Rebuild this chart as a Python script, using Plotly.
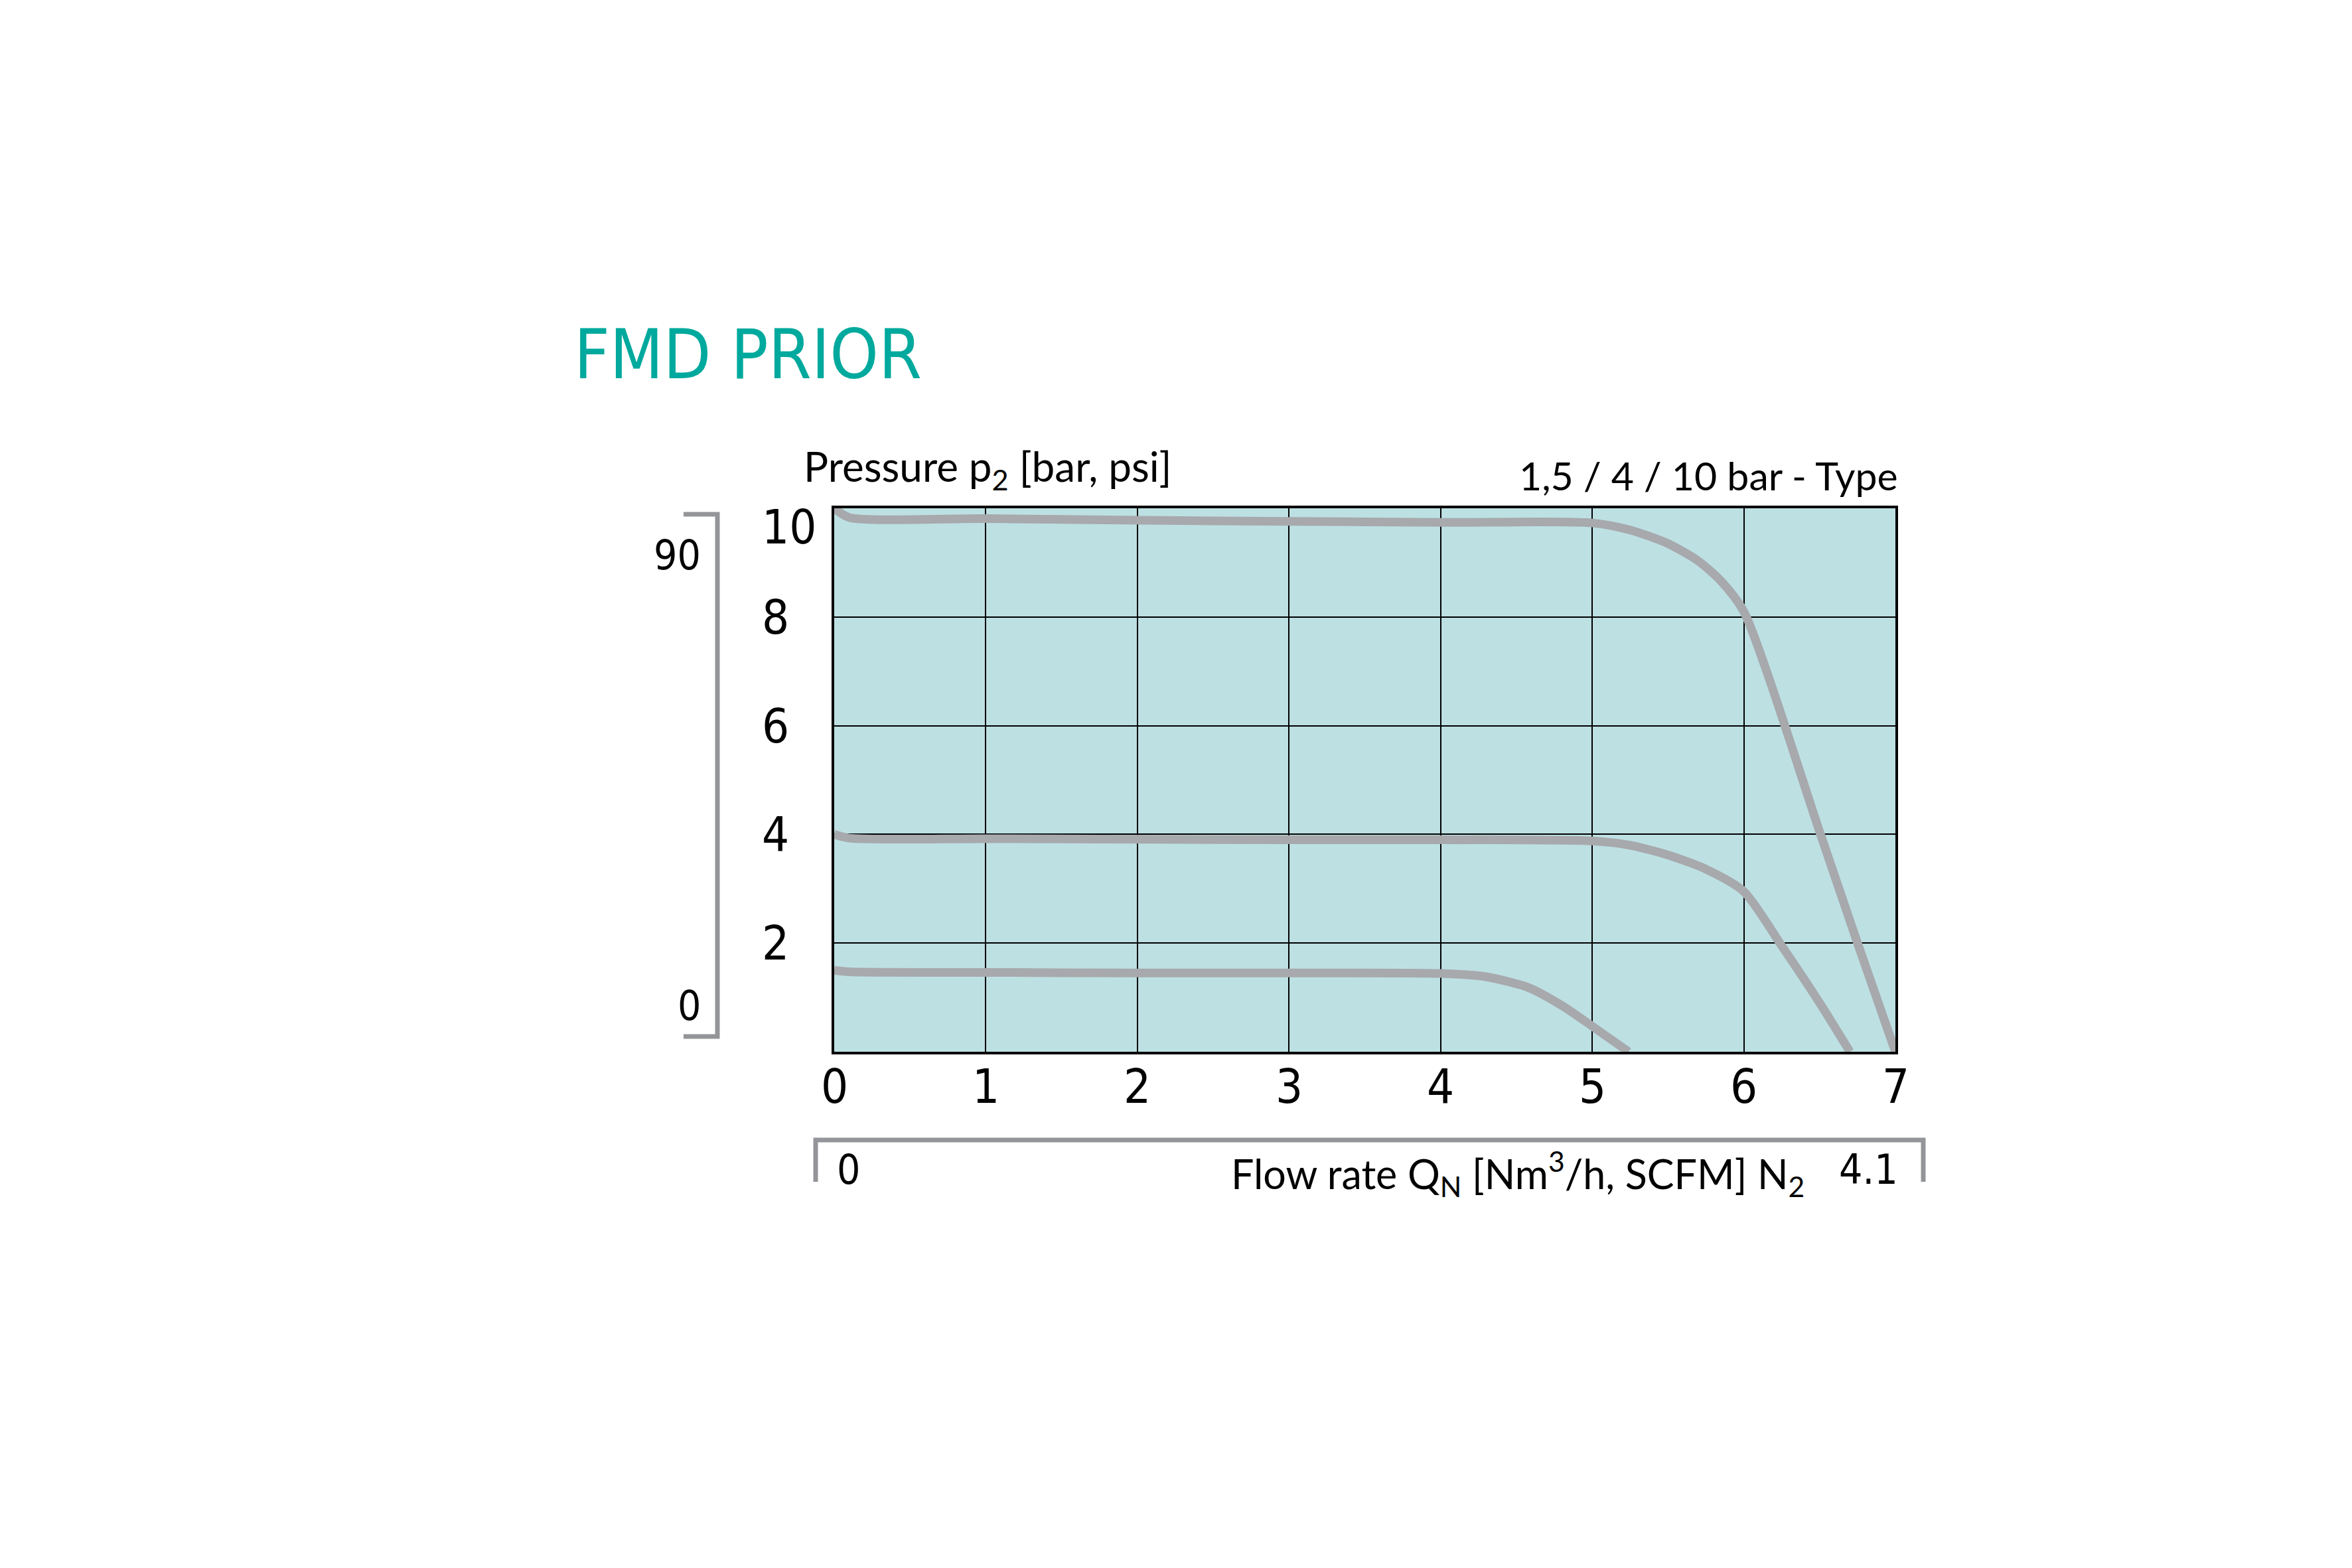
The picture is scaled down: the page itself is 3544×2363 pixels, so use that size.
import plotly.graph_objects as go

# ---------------- data ----------------
flow_ticks = [0, 1, 2, 3, 4, 5, 6, 7]
pressure_ticks = [2, 4, 6, 8, 10]
pressure_tick_labels = ["2", "4", "6", "8", "10"]

# 10 bar type
flow_10 = [0.0, 0.1, 1.0, 2.0, 3.0, 4.0, 5.0, 5.25, 5.5, 5.7, 5.85, 6.0, 6.5, 6.75, 7.0]
p2_10 = [10.0, 9.83, 9.81, 9.78, 9.76, 9.74, 9.73, 9.6, 9.35, 9.03, 8.66, 8.1, 4.05, 2.0, 0.0]

# 4 bar type
flow_4 = [0.0, 0.1, 1.0, 2.0, 3.0, 4.0, 5.0, 5.25, 5.5, 5.75, 6.0, 6.25, 6.5, 6.7]
p2_4 = [4.0, 3.93, 3.92, 3.91, 3.9, 3.9, 3.88, 3.8, 3.62, 3.36, 2.95, 1.95, 0.9, 0.0]

# 1.5 bar type
flow_15 = [0.0, 0.1, 1.0, 2.0, 3.0, 4.0, 4.3, 4.58, 4.8, 5.0, 5.24]
p2_15 = [1.5, 1.47, 1.46, 1.45, 1.45, 1.44, 1.38, 1.18, 0.85, 0.47, 0.0]

title_text = "FMD PRIOR"
y_label = "Pressure p<sub>2</sub> [bar, psi]"
type_label = "1,5 / 4 / 10 bar - Type"
x_label = "Flow rate Q<sub>N</sub> [Nm<sup>3</sup>/h, SCFM] N<sub>2</sub>"
psi_top, psi_bottom = "90", "0"
scfm_left, scfm_right = "0", "4.1"

# ---------------- style ----------------
OFF = 8                      # default page body margin
W, H = 3544 - 2 * OFF, 2363 - 2 * OFF
L, R, T, B = 1257, 2856, 766, 1585   # plot box in page pixels
COND = "DejaVu Sans Condensed, DejaVu Sans, sans-serif"
TXT = "Lato, sans-serif"
CURVE = "#A7A9AC"
BRACKET = "#939598"


def px(xp):
    return (xp - L) / (R - L)


def py(yp):
    return (B - yp) / (B - T)


fig = go.Figure()
for xs, ys in [(flow_15, p2_15), (flow_4, p2_4), (flow_10, p2_10)]:
    fig.add_trace(go.Scatter(x=xs, y=ys, mode="lines",
                             line=dict(color=CURVE, width=13, shape="spline", smoothing=0.7),
                             showlegend=False, hoverinfo="skip"))

fig.update_layout(
    width=W, height=H,
    margin=dict(l=L - OFF, r=W - (R - OFF), t=T - OFF, b=H - (B - OFF), pad=0),
    paper_bgcolor="white", plot_bgcolor="#BDE0E3",
    showlegend=False,
)
fig.update_xaxes(range=[0, 7], tickvals=flow_ticks, showticklabels=False,
                 showgrid=True, gridcolor="black", gridwidth=2, zeroline=False,
                 showline=True, linecolor="black", linewidth=4, mirror=True, ticks="")
fig.update_yaxes(range=[0, 10], tickvals=pressure_ticks, showticklabels=False,
                 showgrid=True, gridcolor="black", gridwidth=2, zeroline=False,
                 showline=True, linecolor="black", linewidth=4, mirror=True, ticks="")

ann = []
# y tick labels (left aligned)
for v, t in zip(pressure_ticks, pressure_tick_labels):
    ann.append(dict(x=px(1146), xref="paper", y=v, yref="y", text=t, showarrow=False,
                    xanchor="left", yanchor="middle", yshift=(-28 if v == 10 else 0),
                    font=dict(family=COND, size=72, color="black")))
# x tick labels
for v in flow_ticks:
    ann.append(dict(x=v, xref="x", y=py(1637), yref="paper", text=str(v), showarrow=False,
                    xanchor="center", yanchor="middle",
                    font=dict(family=COND, size=72, color="black")))

ann += [
    dict(x=px(863), y=py(534), xref="paper", yref="paper", text=title_text, showarrow=False,
         xanchor="left", yanchor="middle",
         font=dict(family=COND, size=104, color="#00A99D")),
    dict(x=px(1209), y=py(706), xref="paper", yref="paper", text=y_label, showarrow=False,
         xanchor="left", yanchor="middle", font=dict(family=TXT, size=62, color="black")),
    dict(x=px(2862), y=py(716), xref="paper", yref="paper", text=type_label, showarrow=False,
         xanchor="right", yanchor="middle", font=dict(family=TXT, size=59, color="black")),
    dict(x=px(1058), y=py(836), xref="paper", yref="paper", text=psi_top, showarrow=False,
         xanchor="right", yanchor="middle", font=dict(family=COND, size=62, color="black")),
    dict(x=px(1058), y=py(1515), xref="paper", yref="paper", text=psi_bottom, showarrow=False,
         xanchor="right", yanchor="middle", font=dict(family=COND, size=62, color="black")),
    dict(x=px(1259), y=py(1762), xref="paper", yref="paper", text=scfm_left, showarrow=False,
         xanchor="left", yanchor="middle", font=dict(family=COND, size=62, color="black")),
    dict(x=px(1853), y=py(1768), xref="paper", yref="paper", text=x_label, showarrow=False,
         xanchor="left", yanchor="middle", font=dict(family=TXT, size=61, color="black")),
    dict(x=px(2862), y=py(1762), xref="paper", yref="paper", text=scfm_right, showarrow=False,
         xanchor="right", yanchor="middle", font=dict(family=COND, size=62, color="black")),
]
fig.update_layout(annotations=ann)

# brackets
bl = dict(color=BRACKET, width=7)
shapes = [
    dict(type="path", xref="paper", yref="paper",
         path=f"M {px(1030)} {py(775)} L {px(1081)} {py(775)} L {px(1081)} {py(1562)} L {px(1030)} {py(1562)}",
         line=bl),
    dict(type="path", xref="paper", yref="paper",
         path=f"M {px(1229)} {py(1781)} L {px(1229)} {py(1718)} L {px(2898)} {py(1718)} L {px(2898)} {py(1781)}",
         line=bl),
]
fig.update_layout(shapes=shapes)

fig.write_html("out.html")
